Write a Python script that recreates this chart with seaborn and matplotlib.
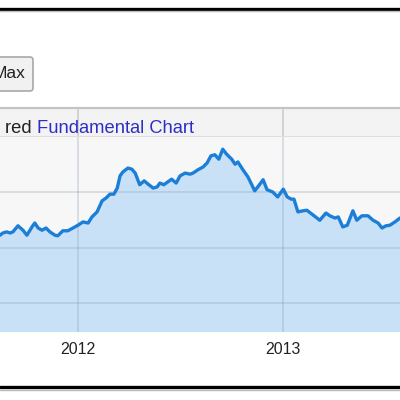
import pandas as pd
import matplotlib
matplotlib.use('Agg')
import matplotlib.pyplot as plt
import matplotlib.dates as mdates
from matplotlib.patches import FancyBboxPatch
from matplotlib.lines import Line2D
import seaborn as sns

# Weekly-ish readings of the fundamental series
dates = ['2011-08-15', '2011-08-20', '2011-08-27', '2011-09-02', '2011-09-07', '2011-09-16',
         '2011-09-25', '2011-10-02', '2011-10-11', '2011-10-16', '2011-10-22', '2011-10-29',
         '2011-11-05', '2011-11-12', '2011-11-21', '2011-11-26', '2011-12-05', '2011-12-14',
         '2011-12-23', '2012-01-01', '2012-01-10', '2012-01-19', '2012-01-26', '2012-02-04',
         '2012-02-13', '2012-02-20', '2012-02-27', '2012-03-05', '2012-03-11', '2012-03-16',
         '2012-03-21', '2012-03-30', '2012-04-06', '2012-04-12', '2012-04-20', '2012-04-28',
         '2012-05-05', '2012-05-14', '2012-05-21', '2012-05-26', '2012-06-02', '2012-06-09',
         '2012-06-16', '2012-06-24', '2012-07-01', '2012-07-10', '2012-07-19', '2012-07-24',
         '2012-08-02', '2012-08-11', '2012-08-18', '2012-08-25', '2012-09-01', '2012-09-08',
         '2012-09-15', '2012-09-22', '2012-10-01', '2012-10-07', '2012-10-12', '2012-10-21',
         '2012-10-30', '2012-11-11', '2012-11-18', '2012-11-26', '2012-12-03', '2012-12-13',
         '2012-12-22', '2013-01-01', '2013-01-08', '2013-01-15', '2013-01-20', '2013-01-27',
         '2013-02-05', '2013-02-12', '2013-02-21', '2013-03-02', '2013-03-07', '2013-03-18',
         '2013-03-25', '2013-04-03', '2013-04-09', '2013-04-17', '2013-04-25', '2013-05-05',
         '2013-05-12', '2013-05-21', '2013-06-01', '2013-06-10', '2013-06-19', '2013-06-26',
         '2013-07-03', '2013-07-10', '2013-07-19', '2013-07-28']
values = [22.3, 22.7, 22.9, 22.7, 22.9, 24.0,
          23.2, 22.3, 23.8, 24.5, 23.6, 23.2,
          23.6, 22.9, 22.3, 22.2, 23.1, 23.1,
          23.6, 24.1, 24.7, 24.5, 25.6, 26.5,
          28.5, 29.0, 29.7, 29.7, 30.8, 33.0,
          33.7, 34.4, 34.2, 33.5, 31.4, 32.1,
          31.5, 30.8, 31.0, 31.7, 31.4, 31.9,
          32.4, 31.7, 33.0, 33.5, 33.3, 33.5,
          34.1, 34.6, 35.3, 36.6, 36.8, 36.0,
          37.8, 36.9, 36.0, 35.1, 35.5, 34.1,
          32.8, 30.3, 31.2, 32.3, 30.5, 30.1,
          29.2, 30.6, 29.2, 28.8, 28.8, 26.5,
          26.7, 26.8, 26.1, 25.4, 25.0, 26.3,
          25.8, 25.4, 25.6, 23.8, 24.1, 26.7,
          25.0, 25.8, 25.8, 25.0, 24.5, 23.6,
          24.0, 24.1, 24.7, 25.4]

x_start = pd.Timestamp('2011-08-15')
x_end = pd.Timestamp('2013-07-28')
y_min, y_max = 4.86, 40
grid_vals = [10, 20, 30]
year_lines = ['2012-01-01', '2013-01-01']

df = pd.DataFrame({'date': pd.to_datetime(dates), 'value': values})

sns.set_style('white')
plt.rcParams['font.family'] = ['Liberation Sans', 'DejaVu Sans']

fig = plt.figure(figsize=(4, 4), dpi=100)
fig.patch.set_facecolor('white')

# main chart area
ax = fig.add_axes([0, 1 - 332 / 400, 1, (332 - 137) / 400])
ax.set_facecolor('#f7f7f7')
ax.fill_between(df['date'], df['value'], y_min, color='#c8e1f6', zorder=1)
sns.lineplot(data=df, x='date', y='value', ax=ax, color='#1b7fd8', linewidth=2.4, zorder=4)
for g in grid_vals:
    ax.axhline(g, color='#8aa0b0', alpha=0.32, linewidth=1.3, zorder=2)
for yr in year_lines:
    ax.axvline(pd.Timestamp(yr), color='#8aa0b0', alpha=0.32, linewidth=1.3, zorder=2)
ax.set_xlim(x_start, x_end)
ax.set_ylim(y_min, y_max)
ax.xaxis.set_major_locator(mdates.YearLocator())
ax.xaxis.set_major_formatter(mdates.DateFormatter('%Y'))
ax.tick_params(axis='x', length=0, pad=7, labelsize=11.5, labelcolor='#222222')
ax.set_yticks([])
ax.set_xlabel('')
ax.set_ylabel('')
for s in ax.spines.values():
    s.set_visible(False)

# header strip above the chart
hx = fig.add_axes([0, 1 - 137 / 400, 1, (137 - 108) / 400], sharex=ax)
hx.set_facecolor('#f3f3f3')
for yr in year_lines:
    hx.axvline(pd.Timestamp(yr), color='#d0d0d0', linewidth=1.3)
hx.axhline(0.0, color='#dedede', linewidth=1.5)
hx.set_ylim(0, 1)
hx.set_yticks([])
hx.tick_params(axis='x', length=0, labelbottom=False)
for k, s in hx.spines.items():
    s.set_visible(k == 'top')
hx.spines['top'].set_color('#c4c4c4')
hx.spines['top'].set_linewidth(1.6)
t1 = hx.text(0.012, 0.3, 'red ', transform=hx.transAxes, fontsize=13.2,
             color='#222222', va='center', ha='left')
fig.canvas.draw()
bb = t1.get_window_extent()
hx.text(bb.x1 / fig.bbox.width, 0.3, 'Fundamental Chart', transform=hx.transAxes,
        fontsize=13.2, color='#2e2ec6', va='center', ha='left')

# "Max" button
btn = FancyBboxPatch((-0.05, 1 - 91 / 400), 0.05 + 33 / 400, 34 / 400,
                     boxstyle='round,pad=0,rounding_size=0.008', transform=fig.transFigure,
                     facecolor='#f1f1f1', edgecolor='#a8a8a8', linewidth=1.2)
fig.add_artist(btn)
fig.text(26 / 400, 1 - 74 / 400, 'Max', fontsize=12.5, color='#222222', ha='right', va='center')

# black frame lines top and bottom
fig.add_artist(Line2D([0, 1], [1 - 8.5 / 400] * 2, color='black', linewidth=2.4, transform=fig.transFigure))
fig.add_artist(Line2D([0, 1], [1 - 11 / 400] * 2, color='#bbbbbb', linewidth=1, transform=fig.transFigure))
fig.add_artist(Line2D([0, 1], [1 - 387 / 400] * 2, color='black', linewidth=2.4, transform=fig.transFigure))
fig.add_artist(Line2D([0, 1], [1 - 390 / 400] * 2, color='#bbbbbb', linewidth=1, transform=fig.transFigure))

fig.savefig('out.png', dpi=100)
